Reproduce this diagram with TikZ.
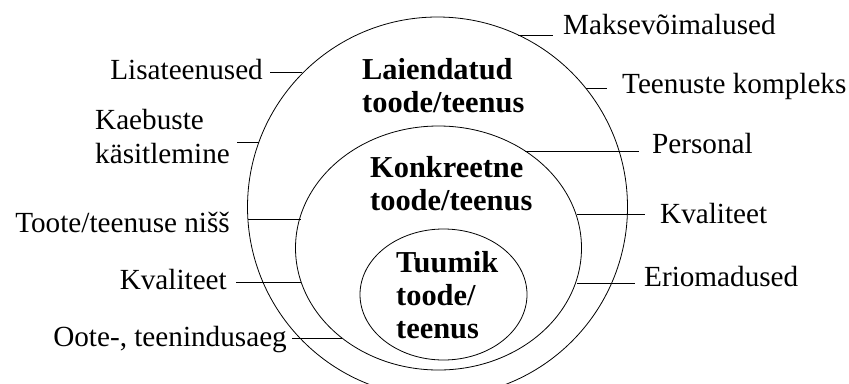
\documentclass[tikz,border=0pt]{standalone}
\usepackage{fontspec}
\setmainfont{Liberation Serif}
\usetikzlibrary{shapes.geometric}
\begin{document}
\begin{tikzpicture}[x=1bp,y=-1bp,
  lbl/.style={inner sep=0pt, font=\fontsize{29.2bp}{33.5bp}\selectfont},
  ttl/.style={inner sep=0pt, align=left, font=\fontsize{30.4bp}{33bp}\selectfont\bfseries},
  ring/.style={draw, ellipse, inner sep=0pt, line width=0.8bp},
  conn/.style={line width=0.8bp}]
\useasboundingbox (0,0) rectangle (849,383);
\clip (0,0) rectangle (849,383);
% rings
\node[ring, minimum width=380bp, minimum height=380bp] (outer) at (437.5,207) {};
\node[ring, minimum width=286bp, minimum height=244bp] (mid) at (438.5,248) {};
\node[ring, minimum width=167bp, minimum height=131bp] (core) at (443.5,294.5) {};
% titles (base anchor = baseline of last line)
\node[ttl, anchor=base west] (tlai) at (362,112) {Laiendatud\\toode/teenus};
\node[ttl, anchor=base west] (tkon) at (370,210) {Konkreetne\\toode/teenus};
\node[ttl, anchor=base west] (ttuu) at (396,338) {Tuumik\\toode/\\teenus};
% right labels
\node[lbl, anchor=base west] (lmak) at (563,34) {Maksevõimalused};
\node[lbl, anchor=base west] (lten) at (622,93) {Teenuste kompleks};
\node[lbl, anchor=base west] (lper) at (652,153) {Personal};
\node[lbl, anchor=base west] (lkvr) at (660,223) {Kvaliteet};
\node[lbl, anchor=base west] (leri) at (644,286) {Eriomadused};
% left labels
\node[lbl, anchor=base east] (llis) at (263,79) {Lisateenused};
\node[lbl, anchor=base west, align=left] (lkae) at (95,163) {Kaebuste\\käsitlemine};
\node[lbl, anchor=base east] (ltoo) at (230,232) {Toote/teenuse nišš};
\node[lbl, anchor=base east] (lkvl) at (227,289) {Kvaliteet};
\node[lbl, anchor=base east] (loot) at (287,346) {Oote-, teenindusaeg};
% connector points on rings
\coordinate (pmak) at (518,35);
\coordinate (pten) at (586,88);
\coordinate (pper) at (525,151);
\coordinate (pkvr) at (577,214);
\coordinate (peri) at (577,283);
\coordinate (plis) at (302,72);
\coordinate (pkae) at (259,142);
\coordinate (ptoo) at (301,219);
\coordinate (qtoo) at (248,219);
\coordinate (pkvl) at (301,282);
\coordinate (ploo) at (342,338);
% connectors
\draw[conn, shorten >=10bp] (pmak) -- (pmak -| lmak.west);
\draw[conn, shorten >=15bp] (pten) -- (pten -| lten.west);
\draw[conn, shorten >=13bp] (pper) -- (pper -| lper.west);
\draw[conn, shorten >=15bp] (pkvr) -- (pkvr -| lkvr.west);
\draw[conn, shorten >=9bp] (peri) -- (peri -| leri.west);
\draw[conn, shorten >=7bp] (plis) -- (plis -| llis.east);
\draw[conn, shorten >=7bp] (pkae) -- (pkae -| lkae.east);
\draw[conn] (ptoo) -- (qtoo);
\draw[conn, shorten >=9bp] (pkvl) -- (pkvl -| lkvl.east);
\draw[conn, shorten >=5bp] (ploo) -- (ploo -| loot.east);
\end{tikzpicture}
\end{document}
